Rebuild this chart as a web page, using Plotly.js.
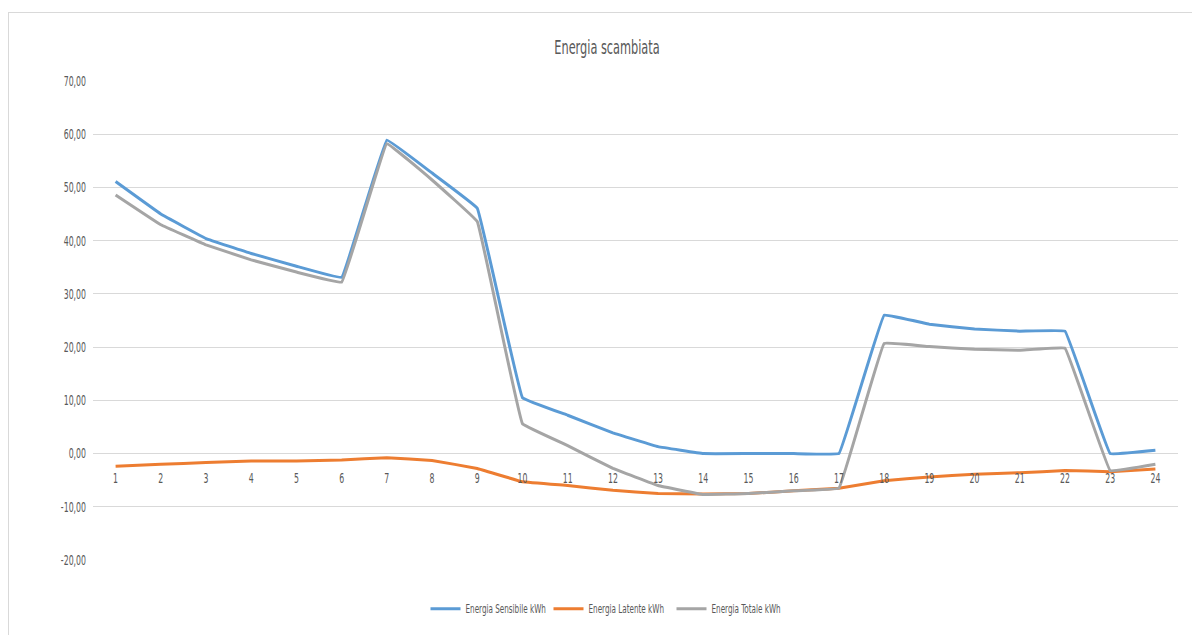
<!DOCTYPE html>
<html>
<head>
<meta charset="utf-8">
<script src="https://cdn.plot.ly/plotly-3.0.1.min.js"></script>
<style>
  html, body { margin: 0; padding: 0; background: #ffffff; overflow: hidden; }
  #frame { position: absolute; left: 8px; top: 12px; width: 1200px; height: 640px; border: 1px solid #d9d9d9; box-sizing: border-box; }
  #chart { position: absolute; left: 0; top: 0; width: 1192px; height: 635px; }
</style>
</head>
<body>
<div id="frame"></div>
<div id="chart"></div>
<script>
const hours = ['1','2','3','4','5','6','7','8','9','10','11','12','13','14','15','16','17','18','19','20','21','22','23','24'];
const sensibile = [51.1, 45.0, 40.4, 37.6, 35.2, 33.1, 58.9, 52.7, 46.1, 10.5, 7.2, 3.9, 1.3, 0.0, 0.0, 0.0, 0.0, 26.0, 24.3, 23.4, 23.0, 23.0, 0.0, 0.6];
const latente = [-2.4, -2.0, -1.7, -1.4, -1.4, -1.2, -0.8, -1.3, -2.8, -5.3, -6.0, -6.9, -7.5, -7.6, -7.5, -7.0, -6.5, -5.1, -4.4, -3.9, -3.6, -3.2, -3.4, -2.9];
const totale = [48.6, 43.0, 39.2, 36.4, 34.1, 32.2, 58.2, 51.4, 43.6, 5.6, 1.5, -2.8, -6.0, -7.7, -7.5, -7.0, -6.5, 20.7, 20.1, 19.6, 19.4, 19.8, -3.2, -2.0];
const seriesNames = ['Energia Sensibile kWh', 'Energia Latente kWh', 'Energia Totale kWh'];
const yTickVals = [-20, -10, 0, 10, 20, 30, 40, 50, 60, 70];
const yTickText = ['-20,00', '-10,00', '0,00', '10,00', '20,00', '30,00', '40,00', '50,00', '60,00', '70,00'];

const FONT = '"DejaVu Sans Condensed", "Liberation Sans Narrow", "Liberation Sans", sans-serif';
const colors = ['#5B9BD5', '#ED7D31', '#A5A5A5'];
const data = [sensibile, latente, totale].map((ys, i) => ({
  type: 'scatter',
  mode: 'lines',
  name: seriesNames[i],
  x: hours,
  y: ys,
  line: { color: colors[i], width: 3, shape: 'spline', smoothing: 0.15 },
  hoverinfo: 'x+y'
}));

const layout = {
  width: 1192,
  height: 635,
  margin: { l: 93, r: 14, t: 81, b: 73, pad: 0 },
  paper_bgcolor: 'rgba(0,0,0,0)',
  plot_bgcolor: 'rgba(0,0,0,0)',
  font: { family: FONT, color: '#595959', size: 12 },
  title: {
    text: 'Energia scambiata',
    font: { family: FONT, size: 20, color: '#595959' },
    x: (607 - 93) / 1085, xanchor: 'center', xref: 'paper',
    y: 1 - 47 / 635, yref: 'container', yanchor: 'middle'
  },
  xaxis: {
    type: 'category',
    range: [-0.5, 23.5],
    anchor: 'free',
    position: 20 / 90,
    showgrid: false,
    showline: false,
    zeroline: false,
    ticks: '',
    ticklabelstandoff: 14,
    tickfont: { family: FONT, size: 14, color: '#595959' },
    fixedrange: true
  },
  yaxis: {
    range: [-20, 70],
    tickvals: yTickVals,
    ticktext: yTickText,
    showgrid: true,
    gridcolor: '#d9d9d9',
    gridwidth: 1,
    zeroline: true,
    zerolinecolor: '#d9d9d9',
    zerolinewidth: 1,
    showline: false,
    ticks: '',
    ticklabelstandoff: 6,
    tickfont: { family: FONT, size: 14, color: '#595959' },
    fixedrange: true
  },
  showlegend: true,
  legend: {
    orientation: 'h',
    x: (610 - 93) / 1085,
    xanchor: 'center',
    y: (562 - 611) / 481,
    yanchor: 'middle',
    entrywidth: 78,
    entrywidthmode: 'pixels',
    font: { family: FONT, size: 12, color: '#595959' },
    bgcolor: 'rgba(0,0,0,0)'
  }
};

function squeeze(selector, sx) {
  document.querySelectorAll('#chart ' + selector).forEach(t => {
    const x = parseFloat(t.getAttribute('x')) || 0;
    const tr = t.getAttribute('transform') || '';
    t.setAttribute('transform', tr + ' translate(' + x + ',0) scale(' + sx + ',1) translate(' + (-x) + ',0)');
  });
}

Plotly.newPlot('chart', data, layout, { displayModeBar: false, staticPlot: true }).then(() => {
  squeeze('.xtick text', 0.62);
  squeeze('.ytick text', 0.62);
  squeeze('.gtitle', 0.63);
  squeeze('.legendtext', 0.67);
});
</script>
</body>
</html>
